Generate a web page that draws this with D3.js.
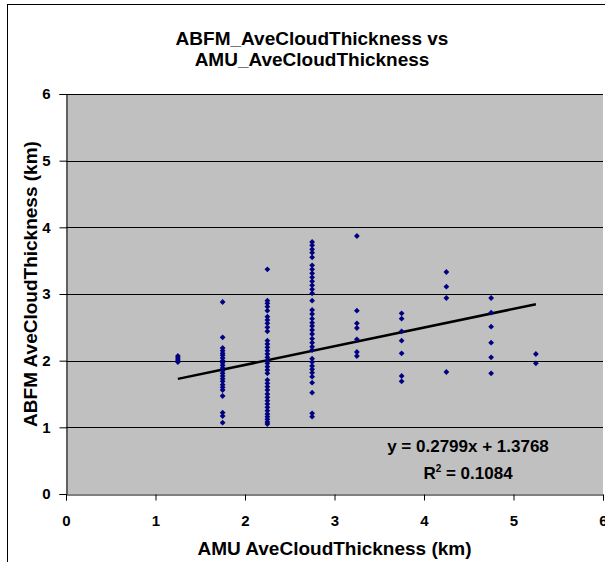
<!doctype html>
<html>
   <head>
      <meta charset="utf-8">
      <title>ABFM vs AMU cloud thickness</title>
      <script src="https://d3js.org/d3.v7.min.js"></script>
      <style>
         body { margin: 0; background: #fff; }
         text { font-family: Arial, "Liberation Sans", sans-serif; font-weight: bold; fill: #000; }
      </style>
   </head>
   <body>
      <div class="chart1"></div>
      <script>
         // AMU values (x) - the data falls on these columns
         var amuX = [1.25, 1.75, 2.25, 2.75, 3.25, 3.75, 4.25, 4.75, 5.25];

         // ABFM values (y) for each AMU column
         var abfmY = [
            [2.07, 2.04, 2.01, 1.98],
            [2.88, 2.35, 2.19, 2.15, 2.11, 2.08, 2.04, 2.0, 1.97, 1.93, 1.89, 1.85, 1.81, 1.77, 1.73, 1.69, 1.64, 1.6, 1.56, 1.47, 1.22, 1.17, 1.07],
            [3.37, 2.9, 2.86, 2.81, 2.75, 2.66, 2.61, 2.56, 2.5, 2.44, 2.3, 2.25, 2.2, 2.15, 2.1, 2.05, 2.0, 1.96, 1.91, 1.86, 1.81, 1.71, 1.66, 1.61, 1.56, 1.5, 1.45, 1.4, 1.35, 1.3, 1.25, 1.2, 1.16, 1.12, 1.08, 1.05],
            [3.78, 3.73, 3.67, 3.62, 3.55, 3.43, 3.37, 3.31, 3.25, 3.19, 3.13, 3.07, 3.01, 2.9, 2.76, 2.7, 2.63, 2.57, 2.52, 2.46, 2.4, 2.33, 2.27, 2.21, 2.16, 2.03, 1.98, 1.92, 1.87, 1.82, 1.76, 1.67, 1.52, 1.21, 1.16],
            [3.87, 2.75, 2.56, 2.49, 2.32, 2.13, 2.07],
            [2.71, 2.63, 2.44, 2.3, 2.11, 1.77, 1.69],
            [3.33, 3.11, 2.94, 1.83],
            [2.94, 2.72, 2.51, 2.27, 2.05, 1.81],
            [2.1, 1.96]
         ];

         var xTicks = [0, 1, 2, 3, 4, 5, 6];
         var yTicks = [0, 1, 2, 3, 4, 5, 6];

         // linear trendline as printed on the chart
         var slope = 0.2799;
         var intercept = 1.3768;
         var rSquared = 0.1084;
         var trendRange = [1.25, 5.25];

         var width = 605;
         var height = 562;

         var points = [];
         amuX.forEach(function(x, i){
            abfmY[i].forEach(function(y){
               points.push({x: x, y: y});
            });
         });

         var svg = d3.select('.chart1').append('svg')
                     .attr('width', width)
                     .attr('height', height);

         // chart frame (runs off the right and bottom of the picture)
         svg.append('rect')
            .attr('x', 7.5).attr('y', 4.5)
            .attr('width', 700).attr('height', 700)
            .attr('fill', '#fff')
            .attr('stroke', '#000');

         var x = d3.scaleLinear().domain([0, 6]).range([66, 603]);
         var y = d3.scaleLinear().domain([0, 6]).range([494, 94]);

         svg.append('rect')
            .attr('x', x(0)).attr('y', y(6))
            .attr('width', x(6) - x(0)).attr('height', y(0) - y(6))
            .attr('fill', '#c0c0c0');

         svg.append('g')
            .selectAll('line')
            .data(yTicks.filter(function(d){ return d > 0; }))
            .enter()
            .append('line')
            .attr('x1', x(0)).attr('x2', x(6))
            .attr('y1', function(d){ return Math.round(y(d)) + 0.5; })
            .attr('y2', function(d){ return Math.round(y(d)) + 0.5; })
            .attr('stroke', '#000');

         var xAxis = svg.append('g')
            .attr('transform', 'translate(0,' + (y(0) + 0.5) + ')')
            .call(d3.axisBottom(x).tickValues(xTicks).tickFormat(d3.format('d')).tickSize(6).tickPadding(15));

         var yAxis = svg.append('g')
            .attr('transform', 'translate(' + (x(0) + 0.5) + ',0)')
            .call(d3.axisLeft(y).tickValues(yTicks).tickFormat(d3.format('d')).tickSize(7).tickPadding(9));

         [xAxis, yAxis].forEach(function(g){
            g.select('.domain').attr('stroke', '#000');
            g.selectAll('.tick line').attr('stroke', '#000');
            g.selectAll('.tick text')
               .style('font-family', 'Arial, "Liberation Sans", sans-serif')
               .style('font-weight', 'bold')
               .style('font-size', '15px')
               .attr('fill', '#000');
         });

         svg.append('line')
            .attr('x1', x(trendRange[0])).attr('y1', y(slope * trendRange[0] + intercept))
            .attr('x2', x(trendRange[1])).attr('y2', y(slope * trendRange[1] + intercept))
            .attr('stroke', '#000')
            .attr('stroke-width', 2.5);

         svg.append('g')
            .selectAll('path')
            .data(points)
            .enter()
            .append('path')
            .attr('d', 'M0,-2.9L2.9,0L0,2.9L-2.9,0Z')
            .attr('transform', function(d){ return 'translate(' + x(d.x) + ',' + y(d.y) + ')'; })
            .attr('fill', '#000080');

         // titles
         svg.append('text')
            .attr('x', 312).attr('y', 45)
            .style('font-size', '19px')
            .style('text-anchor', 'middle')
            .text('ABFM_AveCloudThickness vs');
         svg.append('text')
            .attr('x', 312).attr('y', 66)
            .style('font-size', '19px')
            .style('text-anchor', 'middle')
            .text('AMU_AveCloudThickness');

         svg.append('text')
            .attr('x', (x(0) + x(6)) / 2).attr('y', 555)
            .style('font-size', '19px')
            .style('text-anchor', 'middle')
            .text('AMU AveCloudThickness (km)');

         svg.append('text')
            .attr('transform', 'translate(37,284) rotate(-90)')
            .style('font-size', '19px')
            .style('text-anchor', 'middle')
            .text('ABFM AveCloudThickness (km)');

         var eq = svg.append('g').style('font-size', '17px');
         eq.append('text')
            .attr('x', 468).attr('y', 452)
            .style('text-anchor', 'middle')
            .text('y = ' + slope + 'x + ' + intercept);
         var r2 = eq.append('text')
            .attr('x', 468).attr('y', 479)
            .style('text-anchor', 'middle');
         r2.append('tspan').text('R');
         r2.append('tspan').attr('dy', -7).style('font-size', '10px').text('2');
         r2.append('tspan').attr('dy', 7).text(' = ' + rSquared);
      </script>
   </body>
</html>
